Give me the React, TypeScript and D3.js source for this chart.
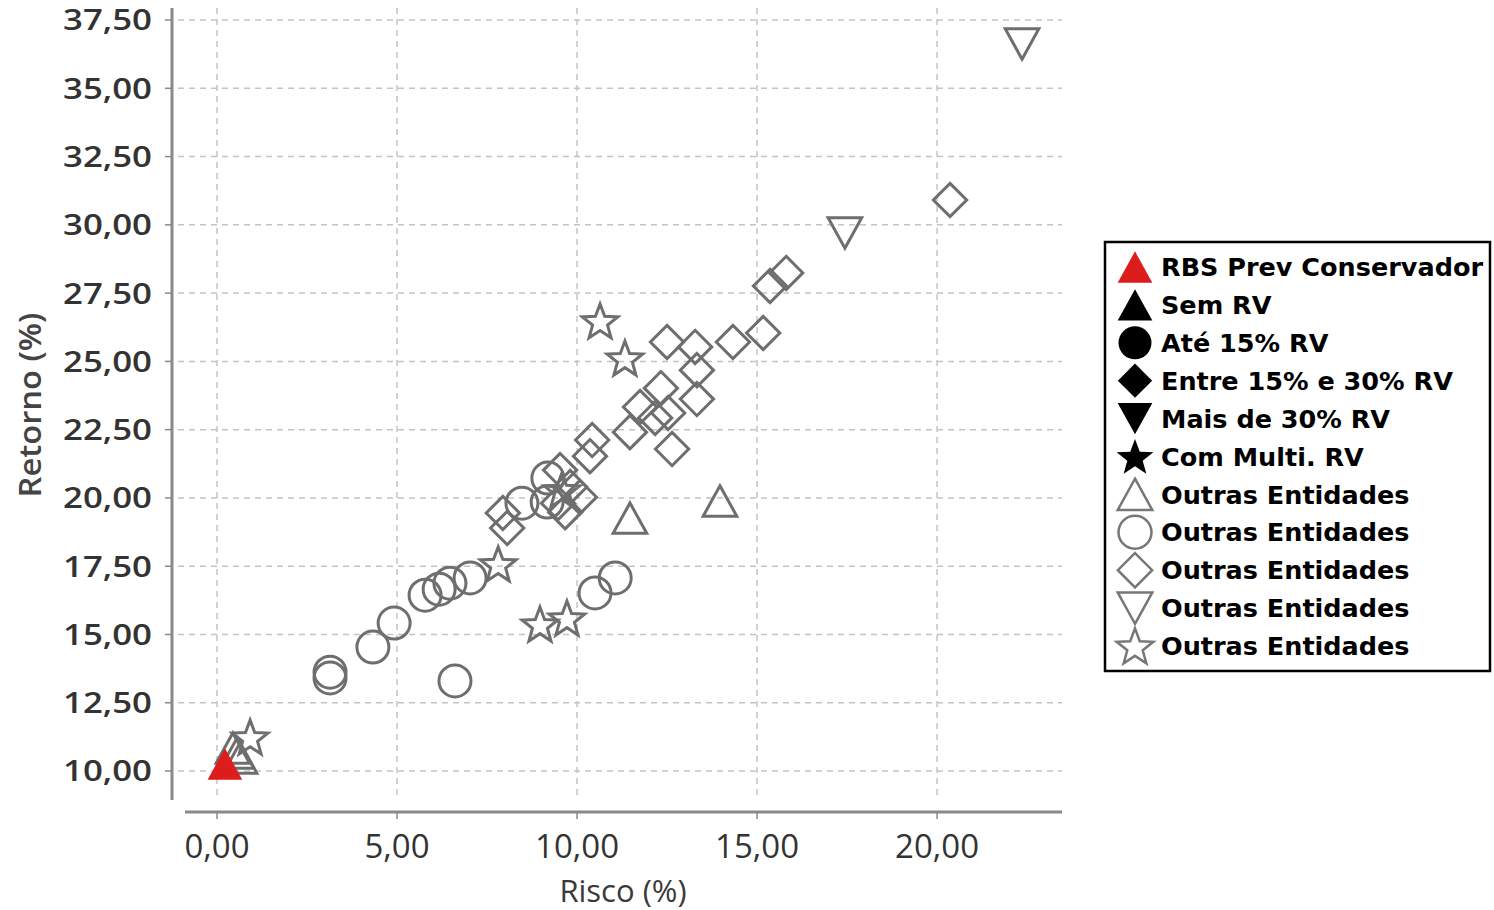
import React from "react";
import * as d3 from "d3";

// ---- Data (Risco %, Retorno %) ----
const rbsPrev: [number, number][] = [[0.22, 10.26]];

const outrasTriUp: [number, number][] = [
  [11.47, 19.26], [13.97, 19.89], [0.44, 10.84], [0.56, 10.66], [0.64, 10.48],
];

const outrasCircle: [number, number][] = [
  [3.14, 13.62], [3.14, 13.41], [4.33, 14.54], [4.92, 15.42], [6.61, 13.3],
  [5.78, 16.44], [6.17, 16.66], [6.47, 16.88], [7.03, 17.07], [10.5, 16.52],
  [11.06, 17.07], [8.47, 19.81], [9.19, 20.73], [9.17, 19.85],
];

const outrasDiamond: [number, number][] = [
  [20.36, 30.91], [15.81, 28.24], [15.36, 27.76], [15.17, 26.04], [14.33, 25.71],
  [13.28, 25.53], [12.5, 25.71], [13.33, 24.68], [13.33, 23.62], [12.33, 24.02],
  [11.75, 23.33], [12.53, 23.11], [12.17, 22.93], [11.47, 22.41], [12.64, 21.79],
  [10.42, 22.12], [10.36, 21.53], [7.94, 19.45], [8.06, 18.9], [9.53, 21.02],
  [9.47, 19.81], [9.81, 20.4], [10.08, 20.03], [9.67, 19.48],
];

const outrasTriDown: [number, number][] = [[22.36, 36.62], [17.44, 29.7]];

const outrasStar: [number, number][] = [
  [10.64, 26.48], [11.33, 25.12], [7.81, 17.58], [8.97, 15.38], [9.72, 15.6],
  [0.92, 11.24], [9.58, 20.29],
];

const xTicks = [0, 5, 10, 15, 20];
const yTicks = [10, 12.5, 15, 17.5, 20, 22.5, 25, 27.5, 30, 32.5, 35, 37.5];

const legendLabels = [
  "RBS Prev Conservador",
  "Sem RV",
  "Até 15% RV",
  "Entre 15% e 30% RV",
  "Mais de 30% RV",
  "Com Multi. RV",
  "Outras Entidades",
  "Outras Entidades",
  "Outras Entidades",
  "Outras Entidades",
  "Outras Entidades",
];
const legendShapes = ["triUp", "triUp", "circle", "diamond", "triDown", "star", "triUp", "circle", "diamond", "triDown", "star"];
const legendKinds = ["red", "black", "black", "black", "black", "black", "outline", "outline", "outline", "outline", "outline"];

// ---- Shape paths ----
function shapePath(kind: string, s: number): string {
  if (kind === "triUp") {
    const w = s * 2.1, h = s * 1.9;
    return `M0,${-h / 2}L${w / 2},${h / 2}L${-w / 2},${h / 2}Z`;
  }
  if (kind === "triDown") {
    const w = s * 2.1, h = s * 1.9;
    return `M0,${h / 2}L${w / 2},${-h / 2}L${-w / 2},${-h / 2}Z`;
  }
  if (kind === "diamond") {
    const r = s * 1.04;
    return `M0,${-r}L${r},0L0,${r}L${-r},0Z`;
  }
  if (kind === "star") {
    const R = s * 1.17, r = R * 0.42;
    const pts: string[] = [];
    for (let i = 0; i < 10; i++) {
      const a = -Math.PI / 2 + (i * Math.PI) / 5;
      const rr = i % 2 === 0 ? R : r;
      pts.push(`${(rr * Math.cos(a)).toFixed(2)},${(rr * Math.sin(a) + R * 0.09).toFixed(2)}`);
    }
    return "M" + pts.join("L") + "Z";
  }
  // circle
  return d3.arc()({ innerRadius: 0, outerRadius: s, startAngle: 0, endAngle: 2 * Math.PI }) as string;
}

const locale = d3.formatLocale({ decimal: ",", thousands: ".", grouping: [3], currency: ["R$", ""] });
const fmt = locale.format(".2f");

export default function App() {
  const W = 1494, H = 910;
  const left = 178, right = 1062, top = 8, bottom = 800;
  const x = d3.scaleLinear().domain([-1.083, 23.47]).range([left, right]);
  const y = d3.scaleLinear().domain([8.94, 37.94]).range([bottom, top]);

  const gray = "#6e6e6e";
  const markerSize = 16;

  const outlineSeries: { shape: string; data: [number, number][] }[] = [
    { shape: "triUp", data: outrasTriUp },
    { shape: "circle", data: outrasCircle },
    { shape: "diamond", data: outrasDiamond },
    { shape: "triDown", data: outrasTriDown },
    { shape: "star", data: outrasStar },
  ];

  const legX = 1105, legY = 242, legW = 385, legH = 429;
  const legRow0 = 267, legStep = 37.9;

  return (
    <svg width={W} height={H} style={{ position: "absolute", left: 0, top: 0, background: "#fff" }}>
      <rect x={0} y={0} width={W} height={H} fill="#fff" />
      {/* gridlines */}
      <g stroke="#c4c4c4" strokeWidth={1.5} strokeDasharray="6,5">
        {xTicks.map((t) => (
          <line key={"gx" + t} x1={x(t)} x2={x(t)} y1={top} y2={bottom} />
        ))}
        {yTicks.map((t) => (
          <line key={"gy" + t} x1={left} x2={right} y1={y(t)} y2={y(t)} />
        ))}
      </g>
      {/* axes */}
      <line x1={172} x2={172} y1={top} y2={bottom} stroke="#8a8a8a" strokeWidth={3} />
      <line x1={185} x2={right} y1={812} y2={812} stroke="#8a8a8a" strokeWidth={3} />
      {yTicks.map((t) => (
        <g key={"ty" + t}>
          <line x1={165} x2={172} y1={y(t)} y2={y(t)} stroke="#8a8a8a" strokeWidth={1.5} />
          <text
            x={152}
            y={y(t)}
            dy="0.36em"
            textAnchor="end"
            fontFamily="'Open Sans', sans-serif"
            fontWeight={600}
            fontSize={29}
            fill="#333"
            textLength={89}
            lengthAdjust="spacingAndGlyphs"
          >
            {fmt(t)}
          </text>
        </g>
      ))}
      {xTicks.map((t) => (
        <g key={"tx" + t}>
          <line x1={x(t)} x2={x(t)} y1={812} y2={819} stroke="#8a8a8a" strokeWidth={1.5} />
          <text
            x={x(t)}
            y={858}
            textAnchor="middle"
            fontFamily="'Open Sans', sans-serif"
            fontSize={33}
            fill="#333"
          >
            {fmt(t)}
          </text>
        </g>
      ))}
      <text x={623} y={902} textAnchor="middle" fontFamily="'Open Sans', sans-serif" fontSize={31} fill="#3a3a3a">
        Risco (%)
      </text>
      <text
        transform="translate(41,405) rotate(-90)"
        textAnchor="middle"
        fontFamily="'Open Sans', sans-serif"
        fontWeight={600}
        fontSize={30}
        fill="#444"
        textLength={185}
        lengthAdjust="spacingAndGlyphs"
      >
        Retorno (%)
      </text>

      {/* outlined series */}
      {outlineSeries.map((s) => (
        <g key={s.shape}>
          {s.data.map((d, i) => (
            <path
              key={i}
              transform={`translate(${x(d[0])},${y(d[1])})`}
              d={shapePath(s.shape, markerSize)}
              fill="none"
              stroke={gray}
              strokeWidth={3}
            />
          ))}
        </g>
      ))}
      {/* RBS Prev */}
      {rbsPrev.map((d, i) => (
        <path
          key={"r" + i}
          transform={`translate(${x(d[0])},${y(d[1])})`}
          d={shapePath("triUp", 16.5)}
          fill="#dd1c1c"
        />
      ))}

      {/* legend */}
      <rect x={legX} y={legY} width={legW} height={legH} fill="#fff" stroke="#000" strokeWidth={2.5} />
      {legendLabels.map((lab, i) => {
        const cy = legRow0 + i * legStep;
        const kind = legendKinds[i];
        const fill = kind === "red" ? "#dd1c1c" : kind === "black" ? "#000" : "none";
        return (
          <g key={"l" + i}>
            <path
              transform={`translate(1135,${cy})`}
              d={shapePath(legendShapes[i], 16.5)}
              fill={fill}
              stroke={kind === "outline" ? "#777" : "none"}
              strokeWidth={kind === "outline" ? 2.5 : 0}
            />
            <text
              x={1161}
              y={cy}
              dy="0.36em"
              fontFamily="'DejaVu Sans', sans-serif"
              fontWeight="bold"
              fontSize={25.5}
              fill="#000"
            >
              {lab}
            </text>
          </g>
        );
      })}
    </svg>
  );
}
